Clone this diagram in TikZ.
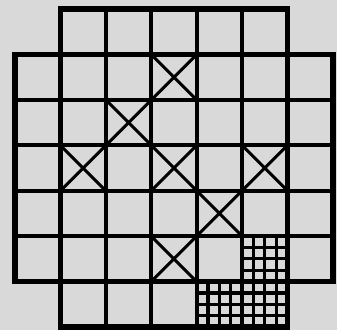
\documentclass[tikz,border=0pt]{standalone}
\usepackage{tikz}

\begin{document}
\begin{tikzpicture}[x=1cm, y=1cm, cell/.style={line width=2.7pt}, rim/.style={line width=3.6pt, line join=miter}, fine/.style={line width=2pt}, cross/.style={line width=1.9pt}]
	\fill[black!15] (-0.33,-0.07) rectangle (7.09,7.2);
	\useasboundingbox (-0.33,-0.07) rectangle (7.09,7.2);
	% subdivided squares
	\foreach \x/\y in {5/1, 4/0, 5/0} {\draw[fine, step=0.25] (\x,\y) grid ++(1,1);}
	% crossed squares
	\foreach \x/\y in {3/5, 2/4, 1/3, 3/3, 5/3, 4/2, 3/1} {\draw[cross] (\x,\y) -- ++(1,1) (\x,\y+1) -- ++(1,-1);}
	% inner lines
	\foreach \i in {1,...,6} {\draw[cell] (0,\i) -- (7,\i); \draw[cell] (\i,0) -- (\i,7);}
	\draw[rim] (1,0) -- (6,0) -- (6,1) -- (7,1) -- (7,6) -- (6,6) -- (6,7) -- (1,7) -- (1,6) -- (0,6) -- (0,1) -- (1,1) -- cycle;
\end{tikzpicture}
\end{document}
